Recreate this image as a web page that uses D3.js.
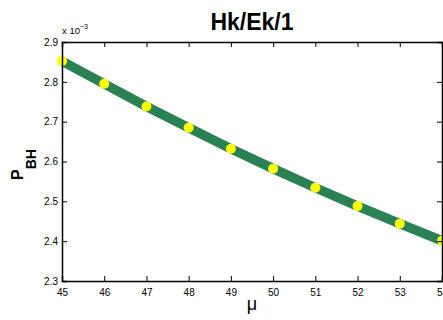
<!DOCTYPE html>
<html>
<head>
<meta charset="utf-8">
<script src="https://cdn.jsdelivr.net/npm/d3@7"></script>
<style>
  body { margin: 0; background: #fff; }
  svg { display: block; font-family: "Liberation Sans", Arial, Helvetica, sans-serif; }
  .tick text { font-size: 10px; fill: #000; }
</style>
</head>
<body>
<div id="chart"></div>
<script>
// P_BH against mu, values in units of 1e-3
const mu = [45, 46, 47, 48, 49, 50, 51, 52, 53, 54];
const pbh = [2.852, 2.795, 2.738, 2.685, 2.632, 2.582, 2.534, 2.488, 2.444, 2.401];
const xTicks = [45, 46, 47, 48, 49, 50, 51, 52, 53, 54];
const yTicks = [2.3, 2.4, 2.5, 2.6, 2.7, 2.8, 2.9];

const W = 443, H = 320;
const margin = { top: 42, right: 1, bottom: 39, left: 62 };
const width = W - margin.left - margin.right;
const height = H - margin.top - margin.bottom;

const svg = d3.select("#chart").append("svg")
    .attr("width", W)
    .attr("height", H);

const g = svg.append("g")
    .attr("transform", `translate(${margin.left},${margin.top})`);

const x = d3.scaleLinear().domain([45, 54]).range([0, width]);
const y = d3.scaleLinear().domain([2.3, 2.9]).range([height, 0]);

// curve first, box and ticks on top
const line = d3.line().x((d, i) => x(mu[i])).y(d => y(d));

g.append("path")
    .datum(pbh)
    .attr("fill", "none")
    .attr("stroke", "#2a8254")
    .attr("stroke-width", 9.5)
    .attr("d", line);

g.selectAll(".dot")
    .data(pbh)
    .enter().append("circle")
    .attr("class", "dot")
    .attr("cx", (d, i) => x(mu[i]))
    .attr("cy", d => y(d))
    .attr("r", 5)
    .attr("fill", "#ffff00");

// axes with inward ticks, mirrored on top and right
const fmt = d3.format(".1f");
g.append("g")
    .attr("transform", `translate(0,${height})`)
    .call(d3.axisBottom(x).tickValues(xTicks).tickSize(-5).tickPadding(8).tickFormat(d3.format("d")));
g.append("g")
    .call(d3.axisLeft(y).tickValues(yTicks).tickSize(-5).tickPadding(4).tickFormat(fmt));
g.append("g")
    .call(d3.axisTop(x).tickValues(xTicks).tickSize(-5).tickFormat(""));
g.append("g")
    .attr("transform", `translate(${width},0)`)
    .call(d3.axisRight(y).tickValues(yTicks).tickSize(-5).tickFormat(""));

g.selectAll(".domain").attr("stroke", "#000").attr("stroke-width", 1.5);
g.selectAll(".tick line").attr("stroke", "#000");

// exponent marker
const ex = g.append("text")
    .attr("x", 0)
    .attr("y", -8)
    .attr("font-size", 9.5);
ex.append("tspan").text("x 10");
ex.append("tspan").attr("dy", -5).attr("font-size", 7).text("\u22123");

// title
svg.append("text")
    .attr("x", margin.left + width / 2)
    .attr("y", 30)
    .attr("text-anchor", "middle")
    .attr("font-size", 23)
    .attr("font-weight", "bold")
    .text("Hk/Ek/1");

// x label
svg.append("text")
    .attr("x", margin.left + width / 2)
    .attr("y", 310)
    .attr("text-anchor", "middle")
    .attr("font-size", 18)
    .text("\u03bc");

// y label with subscript
const yl = svg.append("text")
    .attr("transform", "translate(22.5,180) rotate(-90)")
    .attr("font-size", 16)
    .attr("font-weight", "bold");
yl.append("tspan").text("P");
yl.append("tspan").attr("dy", 13).attr("font-size", 14).text("BH");
</script>
</body>
</html>
